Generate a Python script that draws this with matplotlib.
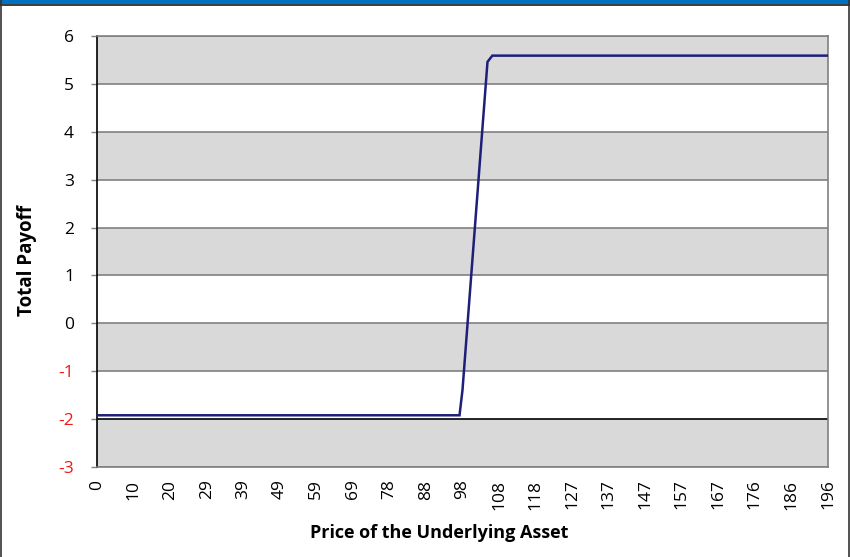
import matplotlib
matplotlib.use("Agg")
import matplotlib.pyplot as plt
from matplotlib.patches import Rectangle

# Data
price = [0, 97.2, 98.0, 104.7, 106.0, 196]
payoff = [-1.92, -1.92, -1.39, 5.46, 5.59, 5.59]
x_tick_labels = ["0", "10", "20", "29", "39", "49", "59", "69", "78", "88", "98",
                 "108", "118", "127", "137", "147", "157", "167", "176", "186", "196"]
y_ticks = [-3, -2, -1, 0, 1, 2, 3, 4, 5, 6]

plt.rcParams['font.family'] = ['Open Sans', 'DejaVu Sans']

W, H = 850, 557
fig = plt.figure(figsize=(W / 100, H / 100), dpi=100)
fig.patch.set_facecolor('white')

# top blue band and border
fig.add_artist(Rectangle((0, 1 - 4 / H), 1, 4 / H, transform=fig.transFigure,
                         facecolor='#0070C0', edgecolor='none'))
fig.add_artist(plt.Line2D([0, 1], [1 - 4.5 / H, 1 - 4.5 / H], transform=fig.transFigure,
                          color='#1a1a1a', lw=1.2))
fig.add_artist(plt.Line2D([1 / W, 1 / W], [0, 1], transform=fig.transFigure,
                          color='#333333', lw=1.2))
fig.add_artist(plt.Line2D([1 - 1 / W, 1 - 1 / W], [0, 1], transform=fig.transFigure,
                          color='#333333', lw=1.2))

left, right, top, bottom = 97, 828, 36, 467
ax = fig.add_axes([left / W, 1 - bottom / H, (right - left) / W, (bottom - top) / H])

xmax = 196
ax.set_xlim(0, xmax)
ax.set_ylim(-3, 6)

# alternating bands
for yb in range(-3, 6):
    if (yb - 5) % 2 == 0:
        ax.axhspan(yb, yb + 1, facecolor='#D9D9D9', edgecolor='none', zorder=0)

# gridlines
for yv in y_ticks:
    if yv == -2:
        ax.axhline(yv, color='black', lw=1.2, zorder=1)
    else:
        ax.axhline(yv, color='#808080', lw=1.2, zorder=1)

ax.plot(price, payoff, color='#1F1F7A', lw=1.8, zorder=3, solid_joinstyle='miter')

# spines
for s in ['top', 'right', 'bottom']:
    ax.spines[s].set_color('#808080')
    ax.spines[s].set_linewidth(1.2)
ax.spines['left'].set_color('black')
ax.spines['left'].set_linewidth(1.2)

ax.set_yticks(y_ticks)
ax.set_yticklabels([str(v) for v in y_ticks])
for lab, v in zip(ax.get_yticklabels(), y_ticks):
    lab.set_color('#F01818' if v < 0 else 'black')
ax.tick_params(axis='y', length=4.5, width=1, color='#808080', pad=12, labelsize=12.5)

xpos = [i * xmax / (len(x_tick_labels) - 1) for i in range(len(x_tick_labels))]
ax.set_xticks(xpos)
ax.set_xticklabels(x_tick_labels, rotation=90)
ax.tick_params(axis='x', length=0, pad=9, labelsize=12.5)

fig.text(439 / W, 1 - 533 / H, 'Price of the Underlying Asset', fontsize=13,
         fontweight='bold', ha='center', va='center')
fig.text(27 / W, 1 - 260 / H, 'Total Payoff', fontsize=13.5, fontweight='bold',
         ha='center', va='center', rotation=90)

fig.savefig('out.png', dpi=100)
